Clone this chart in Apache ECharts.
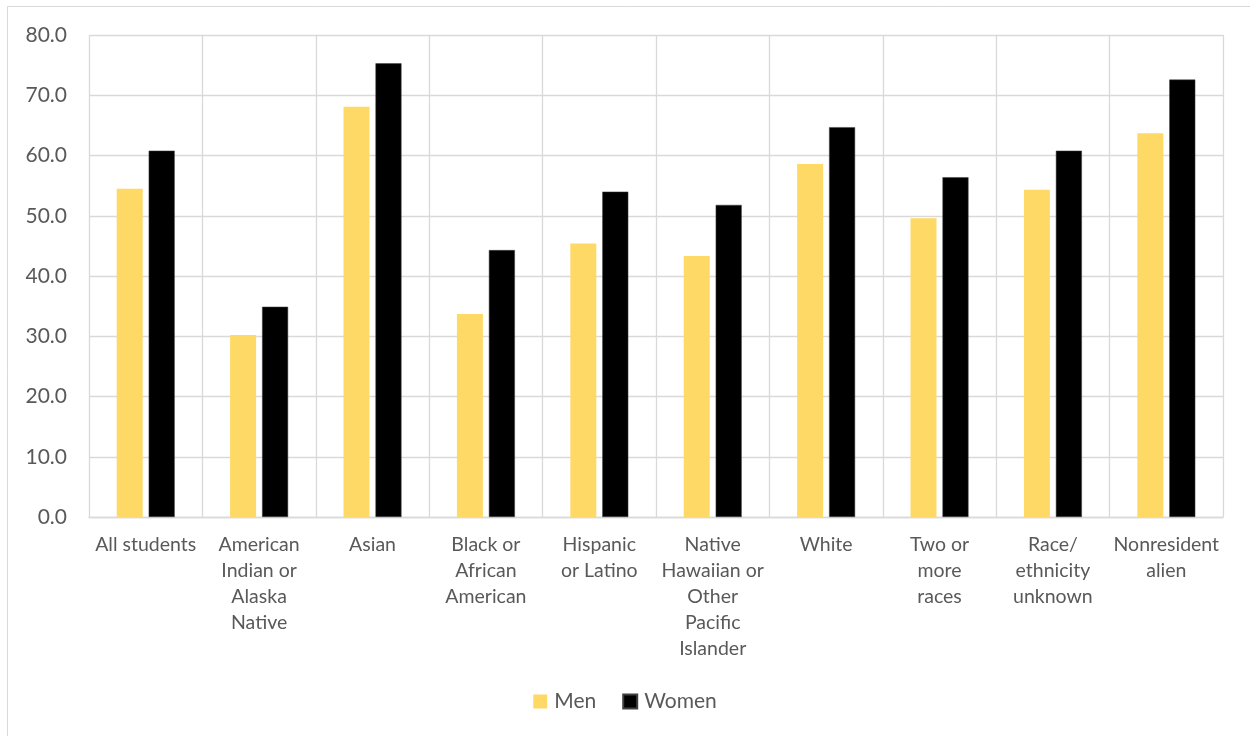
<!DOCTYPE html>
<html>
<head>
<meta charset="utf-8">
<script src="https://cdn.jsdelivr.net/npm/echarts@6/dist/echarts.min.js"></script>
<style>
html,body{margin:0;padding:0;background:#fff;}
#chart{width:1250px;height:736px;}
</style>
</head>
<body>
<div id="chart"></div>
<script>
const categories = [
  "All students",
  "American\nIndian or\nAlaska\nNative",
  "Asian",
  "Black or\nAfrican\nAmerican",
  "Hispanic\nor Latino",
  "Native\nHawaiian or\nOther\nPacific\nIslander",
  "White",
  "Two or\nmore\nraces",
  "Race/\nethnicity\nunknown",
  "Nonresident\nalien"
];
const menValues = [54.5, 30.2, 68.1, 33.7, 45.4, 43.3, 58.6, 49.6, 54.3, 63.7];
const womenValues = [60.8, 34.9, 75.3, 44.3, 54.0, 51.8, 64.7, 56.4, 60.8, 72.6];
const seriesNames = ["Men", "Women"];

const FONT = "Lato";
const TXT = "#595959";
const GRID = "#d9d9d9";

const chart = echarts.init(document.getElementById('chart'));
chart.setOption({
  backgroundColor: '#fff',
  animation: false,
  textStyle: { fontFamily: FONT },
  graphic: [{
    type: 'rect',
    shape: { x: 7.5, y: 6.5, width: 1300, height: 800 },
    style: { fill: 'none', stroke: GRID, lineWidth: 1 },
    silent: true
  }],
  grid: { left: 89, right: 27, top: 35, bottom: 219, containLabel: false },
  legend: {
    data: seriesNames,
    bottom: 19,
    left: 'center',
    itemWidth: 14,
    itemHeight: 14,
    itemGap: 26,
    icon: 'rect',
    textStyle: { color: TXT, fontSize: 21, fontFamily: FONT, padding: [0, 0, 0, 2] }
  },
  xAxis: {
    type: 'category',
    data: categories,
    axisLine: { show: true, lineStyle: { color: GRID, width: 1.3 } },
    axisTick: { show: false },
    splitLine: { show: true, lineStyle: { color: GRID, width: 1.3 } },
    axisLabel: {
      color: TXT, fontSize: 19.5, fontFamily: FONT, lineHeight: 26,
      margin: 15, interval: 0
    }
  },
  yAxis: {
    type: 'value',
    min: 0, max: 80, interval: 10,
    axisLine: { show: false },
    axisTick: { show: false },
    splitLine: { show: true, lineStyle: { color: GRID, width: 1.3 } },
    axisLabel: {
      color: TXT, fontSize: 21, fontFamily: FONT, margin: 22,
      formatter: v => v.toFixed(1)
    }
  },
  series: [
    {
      name: seriesNames[0], type: 'bar', data: menValues,
      barWidth: 26, barGap: '23%',
      itemStyle: { color: '#FFD966' }
    },
    {
      name: seriesNames[1], type: 'bar', data: womenValues,
      barWidth: 26,
      itemStyle: { color: '#000000', borderColor: '#404040', borderWidth: 0.5 }
    }
  ]
});
</script>
</body>
</html>
